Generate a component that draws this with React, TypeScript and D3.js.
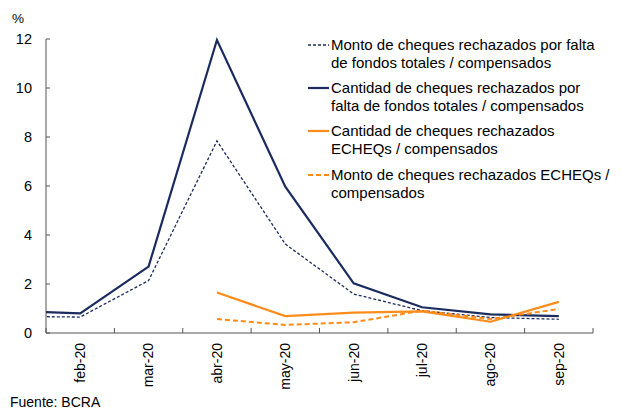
import React from "react";
import * as d3 from "d3";

const months = ["ene-20", "feb-20", "mar-20", "abr-20", "may-20", "jun-20", "jul-20", "ago-20", "sep-20"];
const shownMonths = ["feb-20", "mar-20", "abr-20", "may-20", "jun-20", "jul-20", "ago-20", "sep-20"];
const cantidadTotal = [0.9, 0.8, 2.71, 11.96, 5.97, 2.03, 1.05, 0.76, 0.69];
const montoTotal = [0.68, 0.65, 2.14, 7.84, 3.63, 1.59, 0.91, 0.63, 0.56];
const cantidadEcheq: (number | null)[] = [null, null, null, 1.65, 0.69, 0.83, 0.88, 0.46, 1.27];
const montoEcheq: (number | null)[] = [null, null, null, 0.57, 0.33, 0.44, 0.91, 0.57, 0.98];
const yTicks = [0, 2, 4, 6, 8, 10, 12];

const NAVY = "#1b2b5f";
const ORANGE = "#ff8c1a";
const FONT = "'Liberation Sans', Arial, sans-serif";

const series = [
  { name: ["Monto de cheques rechazados por falta", "de fondos totales / compensados"], values: montoTotal as (number | null)[], color: NAVY, width: 1.3, dash: "3,2" },
  { name: ["Cantidad de cheques rechazados por", "falta de fondos totales / compensados"], values: cantidadTotal as (number | null)[], color: NAVY, width: 2.2, dash: "" },
  { name: ["Cantidad de cheques rechazados", "ECHEQs / compensados"], values: cantidadEcheq, color: ORANGE, width: 2.2, dash: "" },
  { name: ["Monto de cheques rechazados ECHEQs /", "compensados"], values: montoEcheq, color: ORANGE, width: 2, dash: "5,3" },
];

export default function App() {
  const left = 46, right = 593, top = 39, bottom = 333;
  const x = d3.scaleLinear().domain([0.5, months.length - 0.5]).range([left, right]);
  const y = d3.scaleLinear().domain([0, 12]).range([bottom, top]);
  const line = d3
    .line<number | null>()
    .defined((d) => d !== null)
    .x((_, i) => x(i))
    .y((d) => y(d as number));

  const boundaries = d3.range(0.5, months.length, 1);
  const legendX = 308;
  const legendY = [45, 88, 131, 175];

  return (
    <svg width={622} height={414} style={{ position: "absolute", left: 0, top: 0, background: "#fff" }} fontFamily={FONT}>
      <defs>
        <clipPath id="plot">
          <rect x={left} y={0} width={right - left} height={bottom + 2} />
        </clipPath>
      </defs>
      {/* y axis */}
      <line x1={left} x2={left} y1={top} y2={bottom} stroke="#555" strokeWidth={1} />
      {yTicks.map((t) => (
        <g key={t}>
          <line x1={left} x2={left + 4} y1={y(t)} y2={y(t)} stroke="#555" />
          <text x={32} y={y(t)} dy="0.35em" textAnchor="end" fontSize={14.5} fill="#000">
            {t}
          </text>
        </g>
      ))}
      <text x={18} y={23} textAnchor="middle" fontSize={13.5} fill="#000">%</text>
      {/* x axis */}
      <line x1={left} x2={right} y1={bottom} y2={bottom} stroke="#555" strokeWidth={1} />
      {boundaries.map((b) => (
        <line key={b} x1={x(b)} x2={x(b)} y1={bottom} y2={bottom - 5} stroke="#555" />
      ))}
      {shownMonths.map((m) => {
        const i = months.indexOf(m);
        return (
          <text key={m} transform={`translate(${x(i)},${343}) rotate(-90)`} dy="0.35em" textAnchor="end" fontSize={14} fill="#000">
            {m}
          </text>
        );
      })}
      {/* lines */}
      <g clipPath="url(#plot)">
        {series.map((s, k) => (
          <path key={k} d={line(s.values) || ""} fill="none" stroke={s.color} strokeWidth={s.width} strokeDasharray={s.dash} strokeLinejoin="miter" />
        ))}
      </g>
      {/* legend */}
      {series.map((s, k) => (
        <g key={k}>
          <line x1={legendX} x2={329} y1={legendY[k]} y2={legendY[k]} stroke={s.color} strokeWidth={s.width} strokeDasharray={s.dash} />
          {s.name.map((t, j) => (
            <text key={j} x={331} y={legendY[k] + j * 17.3} dy="0.35em" fontSize={15} fill="#000">
              {t}
            </text>
          ))}
        </g>
      ))}
      <text x={10} y={407} fontSize={14} fill="#000">Fuente: BCRA</text>
    </svg>
  );
}
